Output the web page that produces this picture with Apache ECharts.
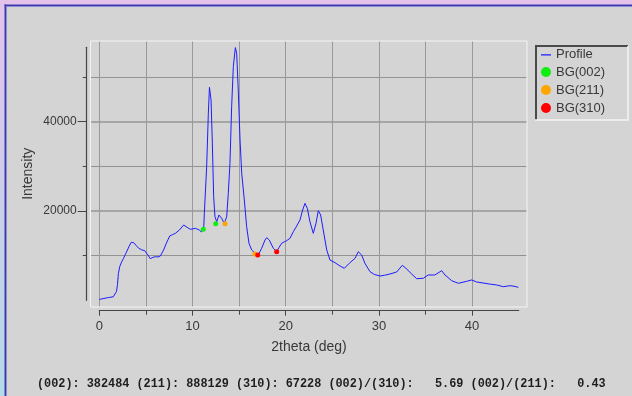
<!DOCTYPE html>
<html>
<head>
<meta charset="utf-8">
<script src="https://cdn.jsdelivr.net/npm/echarts@6/dist/echarts.min.js"></script>
<style>
html,body{margin:0;padding:0;background:#d4d4d4;}
#c{width:632px;height:396px;}
</style>
</head>
<body>
<div id="c"></div>
<script>
// ---- data ----
const TWO_THETA = [0.0,0.5,1.0,1.5,1.7,1.85,1.95,2.05,2.2,2.4,2.6,2.8,2.97,3.2,3.43,3.69,3.95,4.23,4.55,4.87,5.2,5.47,5.75,6.0,6.3,6.55,6.9,7.2,7.55,7.85,8.16,8.6,9.05,9.41,9.77,10.05,10.3,10.5,10.73,10.95,11.09,11.2,11.27,11.52,11.7,11.82,11.99,12.12,12.27,12.41,12.6,12.84,13.13,13.41,13.67,13.84,14.02,14.2,14.38,14.6,14.74,14.91,15.1,15.28,15.56,15.81,16.06,16.35,16.71,17.06,17.42,17.78,17.96,18.24,18.67,19.03,19.3,19.57,19.85,20.1,20.46,20.82,21.18,21.53,21.82,22.07,22.32,22.6,22.96,23.25,23.5,23.75,24.03,24.4,24.75,25.29,25.83,26.29,26.82,27.44,27.79,28.15,28.5,29.05,29.5,30.12,30.6,31.19,31.91,32.51,32.9,33.52,34.05,34.76,35.3,36.0,36.74,37.09,37.81,38.52,39.42,39.95,40.49,41.38,42.0,42.64,43.35,44.07,44.5,44.96];
const INTENSITY = [200,420,620,790,900,2000,3500,6000,7600,8600,9400,10300,11040,12100,12990,12900,12300,11650,11300,11110,10200,9320,9600,9770,9700,9920,11270,12800,14400,14700,15000,15740,16860,16350,15900,16000,16120,15700,15740,15300,15000,15900,19480,29920,41880,47700,44860,35900,23200,18720,17600,19100,18360,17240,18720,23960,30680,43360,52320,56600,55320,47100,35900,28440,22460,16480,12770,11270,10530,10150,11650,13500,14020,13500,11650,10880,11900,12770,13100,13350,13890,15360,16640,17980,20220,21720,20600,17600,15000,17240,20070,19100,15740,11270,9030,8420,7680,7170,8290,9410,10880,10150,8290,6400,5800,5440,5600,5890,6340,7840,7170,5890,4840,4930,5670,5670,6630,5670,4390,3810,4250,4550,4100,3810,3600,3430,3050,3270,3150,2910];
const BG002 = [[11.16,15900],[12.49,17150]];
const BG211 = [[13.49,17150],[16.7,10370]];
const BG310 = [[17.0,10150],[19.03,10880]];
const X_LABEL_TICKS = [0,10,20,30,40];
const X_MINOR_TICKS = [5,15,25,35];
const X_GRID = [0,5,10,15,20,25,30,35,40];
const Y_LABEL_TICKS = [20000,40000];
const Y_MINOR_TICKS = [10000,30000,50000];
const X_RANGE = [0,45];
const Y_RANGE = [0,56660];
const SUMMARY = '(002): 382484 (211): 888129 (310): 67228 (002)/(310):   5.69 (002)/(211):   0.43';

// ---- layout ----
const PLOT = {left:99.3, top:47.3, right:518.7, bottom:300.3};
const FRAME = {left:90.5, top:41, right:527, bottom:307};
function extrap(a0,a1,p0,p1,q){ return a0 + (q-p0)*(a1-a0)/(p1-p0); }
const fxMin = extrap(X_RANGE[0],X_RANGE[1],PLOT.left,PLOT.right,FRAME.left);
const fxMax = extrap(X_RANGE[0],X_RANGE[1],PLOT.left,PLOT.right,FRAME.right);
const fyMin = extrap(Y_RANGE[0],Y_RANGE[1],PLOT.bottom,PLOT.top,FRAME.bottom);
const fyMax = extrap(Y_RANGE[0],Y_RANGE[1],PLOT.bottom,PLOT.top,FRAME.top);

const FONT = "'Liberation Sans', Arial, sans-serif";
const TXT = '#383838';
const AX = '#454545';
const LINE_ICON = 'path://M0,0L0.01,0L0.01,0.01Z M0,5.2L10,5.2L10,6.6L0,6.6Z M9.99,9.99L10,9.99L10,10Z';
const profile = TWO_THETA.map((x,i)=>[x, INTENSITY[i]]);

const chart = echarts.init(document.getElementById('c'), null, {renderer:'canvas'});
const option = {
  backgroundColor: '#d4d4d4',
  animation: false,
  grid: [
    {left:FRAME.left, top:FRAME.top, width:FRAME.right-FRAME.left, height:FRAME.bottom-FRAME.top, show:false},
    {left:PLOT.left, top:PLOT.top, width:PLOT.right-PLOT.left, height:PLOT.bottom-PLOT.top, show:false}
  ],
  xAxis: [
    {gridIndex:0, type:'value', min:fxMin, max:fxMax, axisLine:{show:false}, axisTick:{show:false, customValues:X_GRID}, axisLabel:{show:false}, splitLine:{show:true, lineStyle:{color:'#999999', width:1}}},
    {gridIndex:1, type:'value', min:X_RANGE[0], max:X_RANGE[1], position:'bottom', offset:10.4,
      axisLine:{show:true, onZero:false, lineStyle:{color:AX, width:1.2}},
      axisTick:{show:true, customValues:X_LABEL_TICKS, length:5, lineStyle:{color:AX, width:1}},
      axisLabel:{show:true, customValues:X_LABEL_TICKS, margin:9, color:TXT, fontSize:13, fontFamily:FONT, formatter:v=>String(v)},
      splitLine:{show:false},
      name:'2theta (deg)', nameLocation:'middle', nameGap:29, nameTextStyle:{color:TXT, fontSize:14, fontFamily:FONT}},
    {gridIndex:1, type:'value', min:X_RANGE[0], max:X_RANGE[1], position:'bottom', offset:10.4,
      axisLine:{show:false, onZero:false},
      axisTick:{show:true, customValues:X_MINOR_TICKS, length:4, lineStyle:{color:AX, width:1}},
      axisLabel:{show:false}, splitLine:{show:false}}
  ],
  yAxis: [
    {gridIndex:0, type:'value', min:fyMin, max:fyMax, axisLine:{show:false}, axisTick:{show:false, customValues:Y_MINOR_TICKS}, axisLabel:{show:false}, splitLine:{show:true, lineStyle:{color:'#929292', width:1}}},
    {gridIndex:0, type:'value', min:fyMin, max:fyMax, position:'left', axisLine:{show:false}, axisTick:{show:false, customValues:Y_LABEL_TICKS}, axisLabel:{show:false}, splitLine:{show:true, lineStyle:{color:'#a6a6a6', width:2}}},
    {gridIndex:1, type:'value', min:Y_RANGE[0], max:Y_RANGE[1], position:'left', offset:12.6,
      axisLine:{show:true, onZero:false, lineStyle:{color:AX, width:1.2}},
      axisTick:{show:true, customValues:Y_LABEL_TICKS, length:9, lineStyle:{color:AX, width:1}},
      axisLabel:{show:true, customValues:Y_LABEL_TICKS, margin:10, color:TXT, fontSize:12, fontFamily:FONT, formatter:v=>String(v)},
      splitLine:{show:false},
      name:'Intensity', nameLocation:'middle', nameGap:52, nameRotate:90, nameMoveOverlap:false, nameTextStyle:{color:TXT, fontSize:14, fontFamily:FONT}},
    {gridIndex:1, type:'value', min:Y_RANGE[0], max:Y_RANGE[1], position:'left', offset:12.6,
      axisLine:{show:false, onZero:false},
      axisTick:{show:true, customValues:Y_MINOR_TICKS, length:4, lineStyle:{color:AX, width:1}},
      axisLabel:{show:false}, splitLine:{show:false}}
  ],
  legend: {
    orient:'vertical', left:541, top:47, padding:0, itemGap:4, itemWidth:10, itemHeight:10,
    textStyle:{color:TXT, fontSize:13, fontFamily:FONT, lineHeight:14},
    data:[
      {name:'Profile', icon:LINE_ICON, itemStyle:{color:'#1c1cff', borderWidth:0}},
      {name:'BG(002)', icon:'circle', itemStyle:{opacity:1}},
      {name:'BG(211)', icon:'circle', itemStyle:{opacity:1}},
      {name:'BG(310)', icon:'circle', itemStyle:{opacity:1}}
    ]
  },
  graphic: [
    {type:'rect', silent:true, z:-10, shape:{x:0,y:0,width:632,height:5}, style:{fill:'#e4c2ea'}},
    {type:'rect', silent:true, z:-10, shape:{x:0,y:0,width:4.5,height:396}, style:{fill:new echarts.graphic.LinearGradient(0,0,0,1,[{offset:0,color:'#e4c2ea'},{offset:1,color:'#b4dce8'}])}},
    {type:'rect', silent:true, z:-9, shape:{x:4.5,y:4.5,width:628,height:1.5}, style:{fill:'#3c3cb0'}},
    {type:'rect', silent:true, z:-9, shape:{x:6,y:6,width:626,height:1}, style:{fill:'#8a8ad6'}},
    {type:'rect', silent:true, z:-9, shape:{x:4.5,y:4.5,width:1.5,height:392}, style:{fill:'#3c3cb0'}},
    {type:'rect', silent:true, z:-9, shape:{x:6,y:6,width:1,height:390}, style:{fill:'#8a8ad6'}},
    {type:'rect', silent:true, z:5, shape:{x:FRAME.left,y:FRAME.top,width:FRAME.right-FRAME.left,height:FRAME.bottom-FRAME.top}, style:{fill:'none', stroke:'#f4f4f4', lineWidth:1}},
    {type:'polyline', silent:true, z:5, shape:{points:[[536,120],[536,46],[628,46]]}, style:{stroke:'#4a4a4a', lineWidth:2, fill:'none'}},
    {type:'polyline', silent:true, z:5, shape:{points:[[628,46],[628,120],[535,120]]}, style:{stroke:'#f4f4f4', lineWidth:1.5, fill:'none'}},
    {type:'text', silent:true, z:5, left:37, top:378, style:{text:SUMMARY, fill:'#1e1e1e', font:"bold 11.85px 'Liberation Mono', 'DejaVu Sans Mono', monospace"}}
  ],
  series: [
    {name:'Profile', type:'line', xAxisIndex:1, yAxisIndex:2, data:profile, symbol:'none', showSymbol:false, smooth:false,
      lineStyle:{color:'#1c1cff', width:1}, itemStyle:{color:'#1c1cff'}, z:3},
    {name:'BG(002)', type:'scatter', xAxisIndex:1, yAxisIndex:2, data:BG002, symbol:'circle', symbolSize:5, itemStyle:{color:'#10ee10', opacity:1}, z:4},
    {name:'BG(211)', type:'scatter', xAxisIndex:1, yAxisIndex:2, data:BG211, symbol:'circle', symbolSize:5, itemStyle:{color:'#ffa500', opacity:1}, z:4},
    {name:'BG(310)', type:'scatter', xAxisIndex:1, yAxisIndex:2, data:BG310, symbol:'circle', symbolSize:5, itemStyle:{color:'#ff0000', opacity:1}, z:4}
  ]
};
chart.setOption(option);
</script>
</body>
</html>
